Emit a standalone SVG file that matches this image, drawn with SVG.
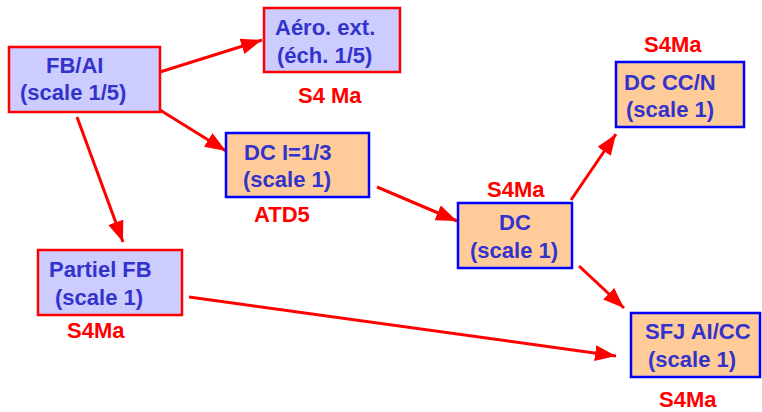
<svg xmlns="http://www.w3.org/2000/svg" width="762" height="412" viewBox="0 0 762 412">
<style>
.t{font-family:"Liberation Sans",Arial,sans-serif;font-weight:bold;font-size:22px;fill:#3333CC}
.r{font-family:"Liberation Sans",Arial,sans-serif;font-weight:bold;font-size:22px;fill:#FF0000}
.bl{fill:#CCCCFF;stroke:#FF0000;stroke-width:2.5}
.or{fill:#FFCC99;stroke:#0000FF;stroke-width:2.5}
.c{stroke:#FF0000;stroke-width:3;fill:none}
</style>
<defs>
<marker id="ah" markerUnits="userSpaceOnUse" markerWidth="24" markerHeight="18" refX="21" refY="8" orient="auto">
<path d="M0,0 L21,8 L0,16 z" fill="#FF0000"/>
</marker>
</defs>
<g id="connectors">
<line class="c" x1="160" y1="72" x2="262" y2="40" marker-end="url(#ah)"/>
<line class="c" x1="160" y1="110" x2="226" y2="151" marker-end="url(#ah)"/>
<line class="c" x1="77" y1="117" x2="123" y2="242" marker-end="url(#ah)"/>
<line class="c" x1="377" y1="187" x2="457" y2="221" marker-end="url(#ah)"/>
<line class="c" x1="571" y1="200" x2="616" y2="134" marker-end="url(#ah)"/>
<line class="c" x1="579" y1="266" x2="624" y2="308" marker-end="url(#ah)"/>
<line class="c" x1="189" y1="297" x2="616" y2="356" marker-end="url(#ah)"/>
</g>
<g id="fbai">
<rect class="bl" x="9" y="47" width="151" height="65"/>
<text class="t" x="46" y="73">FB/AI</text>
<text class="t" x="20" y="100">(scale 1/5)</text>
</g>
<g id="aero">
<rect class="bl" x="264" y="8" width="136" height="64"/>
<text class="t" x="275" y="35">Aéro. ext.</text>
<text class="t" x="277" y="63">(éch. 1/5)</text>
<text class="r" x="298" y="103">S4 Ma</text>
</g>
<g id="dci">
<rect class="or" x="226" y="133" width="143" height="64"/>
<text class="t" x="244" y="160">DC I=1/3</text>
<text class="t" x="243" y="187">(scale 1)</text>
<text class="r" x="254" y="222">ATD5</text>
</g>
<g id="partiel">
<rect class="bl" x="38" y="250" width="144" height="65"/>
<text class="t" x="49" y="277">Partiel FB</text>
<text class="t" x="55" y="305">(scale 1)</text>
<text class="r" x="67" y="338">S4Ma</text>
</g>
<g id="dc">
<rect class="or" x="458" y="203" width="114" height="65"/>
<text class="t" x="515" y="230" text-anchor="middle">DC</text>
<text class="t" x="470" y="258">(scale 1)</text>
<text class="r" x="487" y="197">S4Ma</text>
</g>
<g id="dccc">
<rect class="or" x="616" y="62" width="128" height="65"/>
<text class="t" x="624" y="90">DC CC/N</text>
<text class="t" x="626" y="117">(scale 1)</text>
<text class="r" x="644" y="52">S4Ma</text>
</g>
<g id="sfj">
<rect class="or" x="631" y="313" width="129" height="64"/>
<text class="t" x="645" y="339">SFJ AI/CC</text>
<text class="t" x="648" y="367">(scale 1)</text>
<text class="r" x="659" y="407">S4Ma</text>
</g>
</svg>
